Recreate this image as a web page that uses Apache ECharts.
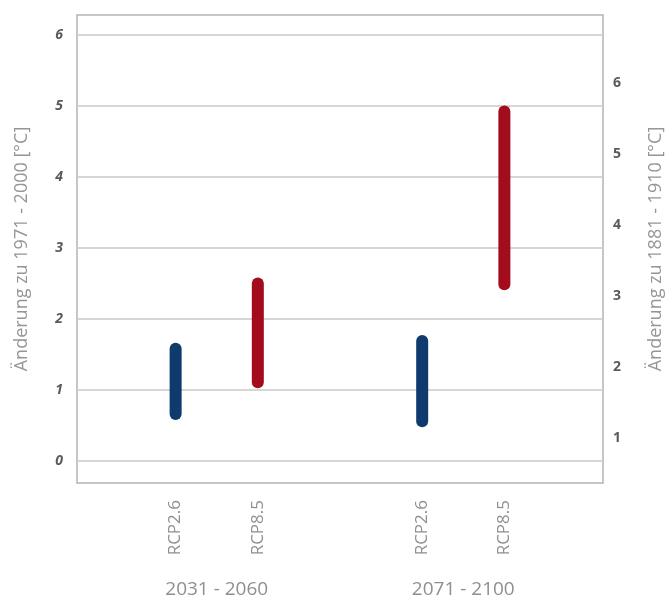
<!DOCTYPE html>
<html>
<head>
<meta charset="utf-8">
<script src="https://cdn.jsdelivr.net/npm/echarts@6/dist/echarts.min.js"></script>
<style>
  html, body { margin: 0; padding: 0; background: #fff; }
  #chart { width: 668px; height: 601px; }
</style>
</head>
<body>
<div id="chart"></div>
<script>
// Scenario ranges of temperature change (°C, relative to 1971-2000)
const scenarios = ['RCP2.6', 'RCP8.5', 'RCP2.6', 'RCP8.5'];
const xPositions = [1, 2, 4, 5];
const periods = ['2031 - 2060', '2071 - 2100'];
const periodPositions = [1.5, 4.5];
const lowValues = [0.66, 1.11, 0.56, 2.49];
const highValues = [1.58, 2.50, 1.69, 4.92];
const leftTicks = [0, 1, 2, 3, 4, 5, 6];
const rightTicks = [1, 2, 3, 4, 5, 6];
// offset between the two reference periods (1881-1910 vs 1971-2000)
const baselineOffset = 0.68;

const colors = { 'RCP2.6': '#0e3a6e', 'RCP8.5': '#a20c1c' };
const leftMin = -0.31, leftMax = 6.28;

const fontFamily = '"Open Sans", "DejaVu Sans", sans-serif';

const series = scenarios.map((name, i) => ({
  type: 'line',
  name: name,
  xAxisIndex: 0,
  yAxisIndex: 0,
  symbol: 'none',
  silent: true,
  data: [[xPositions[i], lowValues[i]], [xPositions[i], highValues[i]]],
  lineStyle: { color: colors[name], width: 12, cap: 'round' },
  z: 5
}));

const chart = echarts.init(document.getElementById('chart'));
chart.setOption({
  animation: false,
  backgroundColor: '#fff',
  grid: {
    left: 77, right: 65, top: 15, bottom: 118,
    outerBoundsMode: 'none', containLabel: false,
    show: true, borderColor: '#b4b4b4', borderWidth: 1.5, backgroundColor: 'transparent'
  },
  xAxis: [
    {
      type: 'value', min: -0.2, max: 6.2,
      axisLine: { show: false }, axisTick: { show: false }, splitLine: { show: false },
      axisLabel: {
        customValues: xPositions,
        formatter: v => scenarios[xPositions.indexOf(v)] || '',
        rotate: 90, margin: 17,
        color: '#8f8f8f', fontSize: 17, fontFamily: fontFamily
      }
    },
    {
      type: 'value', min: -0.2, max: 6.2, position: 'bottom',
      axisLine: { show: false }, axisTick: { show: false }, splitLine: { show: false },
      axisLabel: {
        customValues: periodPositions,
        formatter: v => periods[periodPositions.indexOf(v)] || '',
        margin: 97,
        color: '#8f8f8f', fontSize: 19, fontFamily: fontFamily
      }
    }
  ],
  yAxis: [
    {
      type: 'value', min: leftMin, max: leftMax, position: 'left',
      name: 'Änderung zu 1971 - 2000 [°C]',
      nameLocation: 'middle', nameGap: 46, nameRotate: 90,
      nameTextStyle: { color: '#969696', fontSize: 18, fontFamily: fontFamily },
      axisLine: { show: false },
      axisTick: { show: false, customValues: leftTicks },
      axisLabel: {
        customValues: leftTicks, margin: 14,
        color: '#5a5a5a', fontSize: 14, fontWeight: 'bold', fontStyle: 'italic', fontFamily: fontFamily
      },
      splitLine: { show: true, lineStyle: { color: '#c8c8c8', width: 1.5 } }
    },
    {
      type: 'value', min: leftMin + baselineOffset, max: leftMax + baselineOffset, position: 'right',
      name: 'Änderung zu 1881 - 1910 [°C]',
      nameLocation: 'middle', nameGap: 44, nameRotate: 90,
      nameTextStyle: { color: '#969696', fontSize: 18, fontFamily: fontFamily },
      axisLine: { show: false },
      axisTick: { show: false, customValues: rightTicks },
      axisLabel: {
        customValues: rightTicks, margin: 10,
        color: '#5a5a5a', fontSize: 14, fontWeight: 'bold', fontFamily: fontFamily
      },
      splitLine: { show: false }
    }
  ],
  series: series
});
</script>
</body>
</html>
